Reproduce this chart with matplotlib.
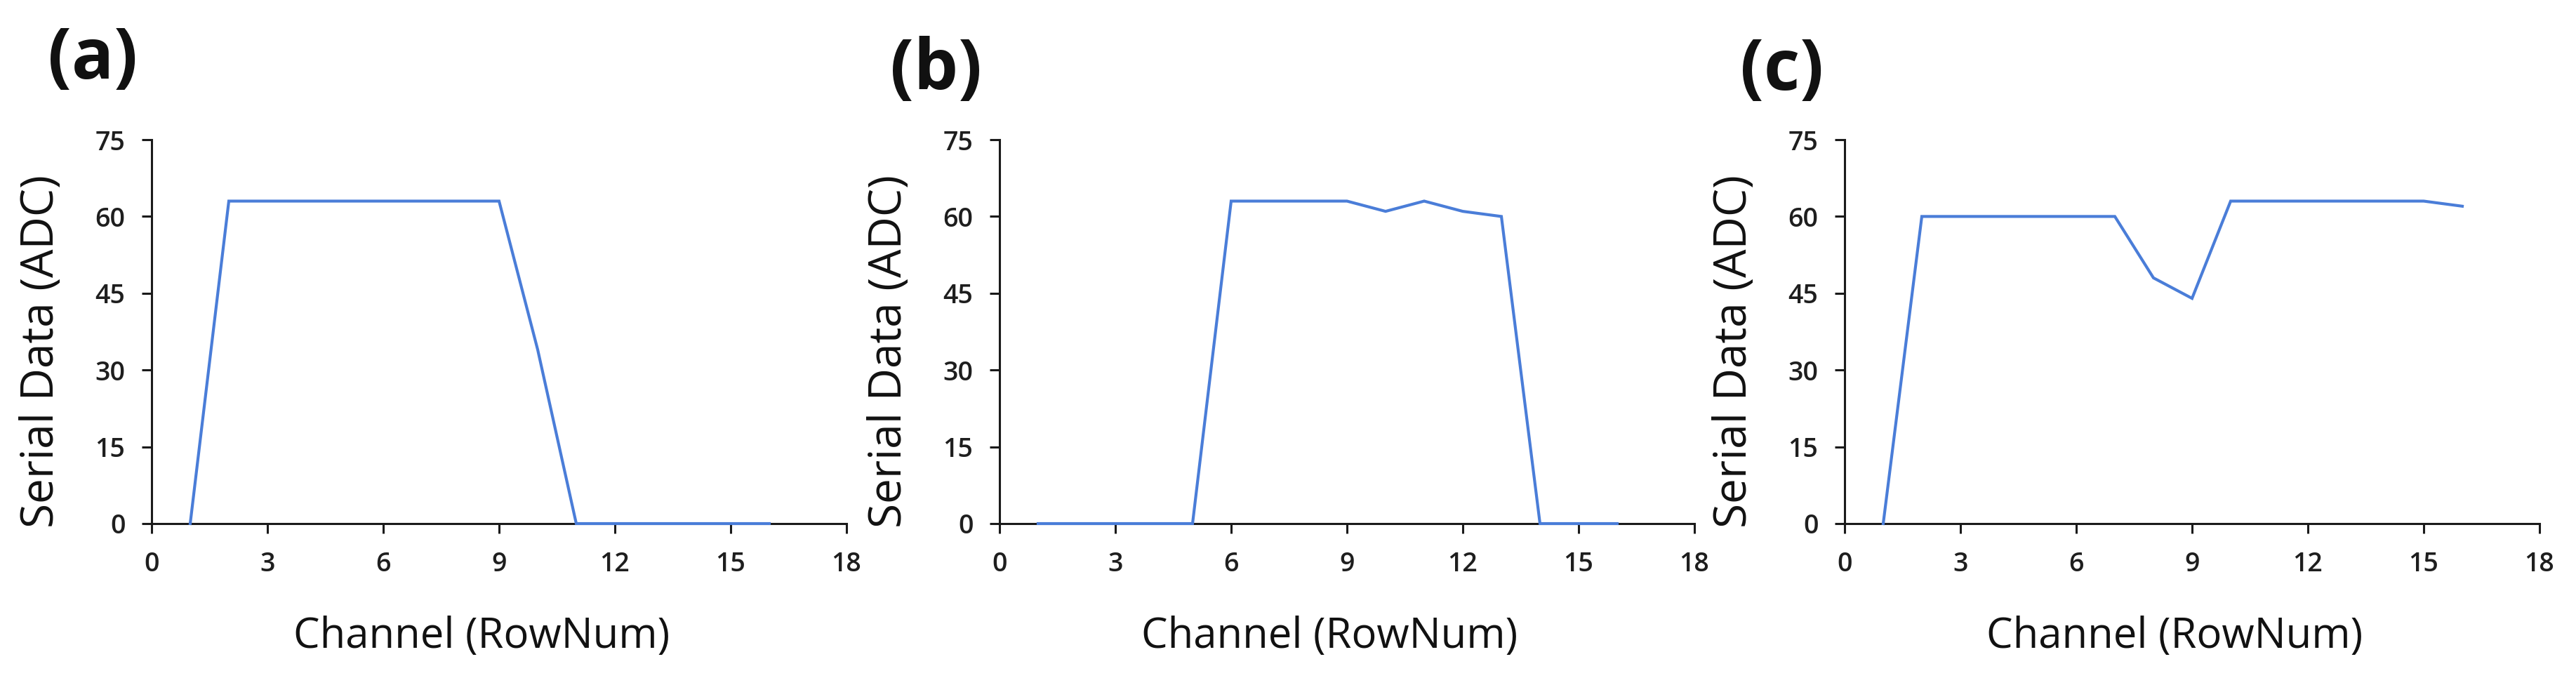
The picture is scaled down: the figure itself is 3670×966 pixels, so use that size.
import matplotlib
matplotlib.use("Agg")
import matplotlib.pyplot as plt

channels = list(range(1, 17))
serial_a = [0, 63, 63, 63, 63, 63, 63, 63, 63, 34, 0, 0, 0, 0, 0, 0]
serial_b = [0, 0, 0, 0, 0, 63, 63, 63, 63, 61, 63, 61, 60, 0, 0, 0]
serial_c = [0, 60, 60, 60, 60, 60, 60, 48, 44, 63, 63, 63, 63, 63, 63, 62]
panel_labels = ["(a)", "(b)", "(c)"]
x_ticks = [0, 3, 6, 9, 12, 15, 18]
y_ticks = [0, 15, 30, 45, 60, 75]
xlabel = "Channel (RowNum)"
ylabel = "Serial Data (ADC)"

W, H = 3670, 966
fig = plt.figure(figsize=(W / 100, H / 100), dpi=100)
fig.patch.set_facecolor("white")

lefts = [216, 1424, 2628]
label_y = [86, 102, 102]
label_dx = [84, 91, 89]
ax_w = 990
ax_top = 199
ax_bot = 746
line_color = "#4A7DD8"
font = ["Open Sans", "DejaVu Sans"]

for i, (left, data) in enumerate(zip(lefts, [serial_a, serial_b, serial_c])):
    ax = fig.add_axes([left / W, (H - ax_bot) / H, ax_w / W, (ax_bot - ax_top) / H])
    ax.plot(channels, data, color=line_color, lw=3.0, solid_joinstyle="miter",
            zorder=3, clip_on=False)
    ax.set_xlim(0, 18)
    ax.set_ylim(0, 75)
    ax.set_xticks(x_ticks)
    ax.set_yticks(y_ticks)
    for s in ["top", "right"]:
        ax.spines[s].set_visible(False)
    for s in ["left", "bottom"]:
        ax.spines[s].set_linewidth(2.2)
        ax.spines[s].set_color("#1a1a1a")
    ax.tick_params(axis="both", direction="out", length=10, width=2.2, color="#1a1a1a")
    ax.tick_params(axis="x", pad=18)
    ax.tick_params(axis="y", pad=17)
    for lab in ax.get_xticklabels() + ax.get_yticklabels():
        lab.set_fontfamily(font)
        lab.set_fontsize(27)
        lab.set_fontweight("semibold")
        lab.set_color("#1e1e1e")
    ax.text(0.475, (ax_bot - 907) / (ax_bot - ax_top), xlabel, transform=ax.transAxes,
            ha="center", va="center", fontsize=43, family=font, color="#111111")
    ax.text((59 - 216) / ax_w, (ax_bot - 501) / (ax_bot - ax_top), ylabel,
            transform=ax.transAxes, ha="center", va="center", rotation=90,
            fontsize=46, family=font, color="#111111")
    fig.text((left - label_dx[i]) / W, (H - label_y[i]) / H, panel_labels[i],
             ha="center", va="center", fontsize=72, fontweight="bold",
             family=font, color="#111111")

fig.savefig("out.png", dpi=100, facecolor="white")
